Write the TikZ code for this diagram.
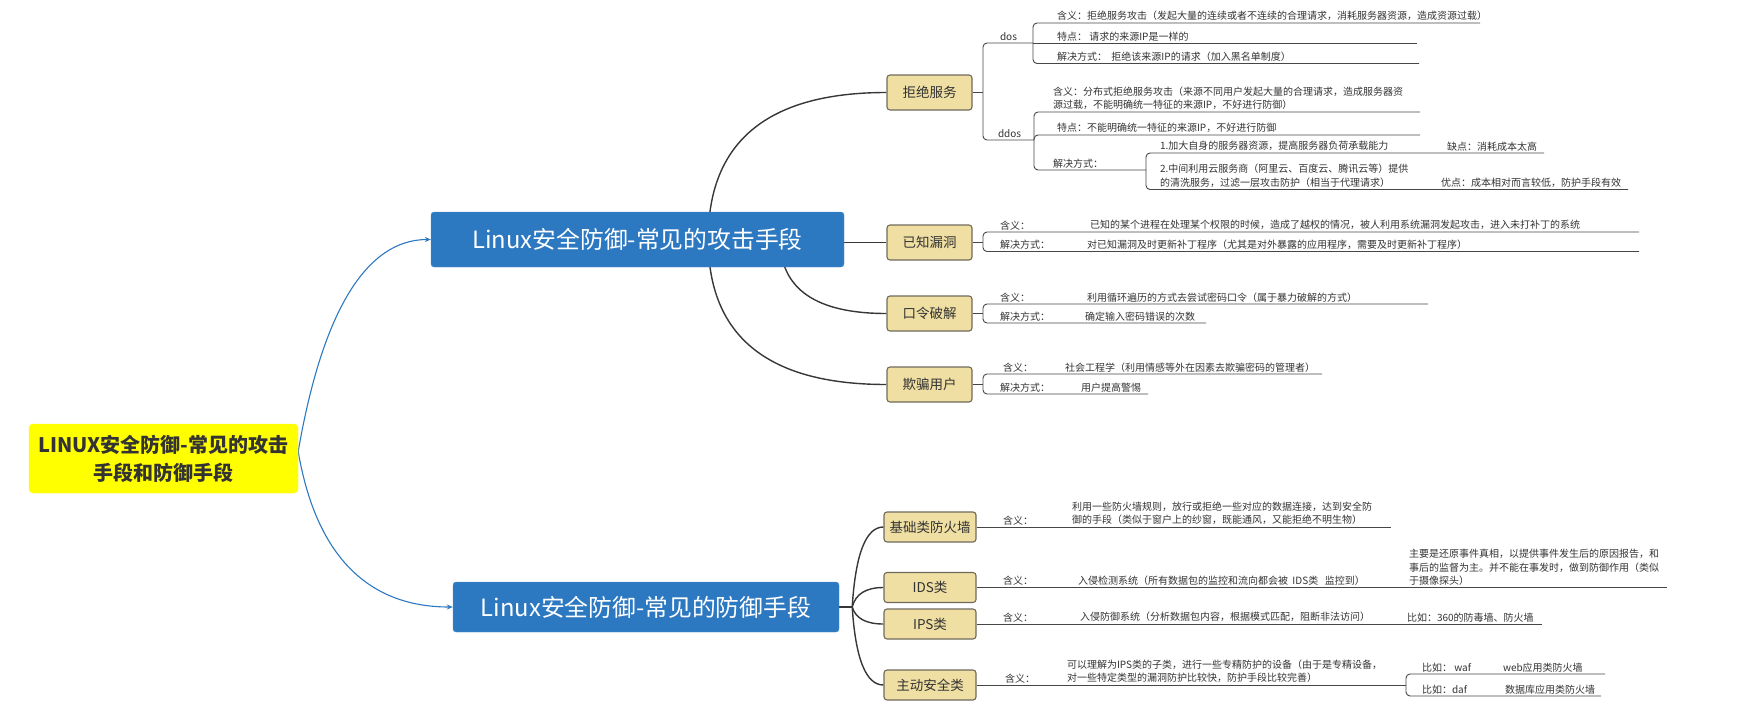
\documentclass[tikz,border=0pt]{standalone}
\usepackage{fontspec}
\setmainfont{Noto Sans CJK SC}
\usetikzlibrary{calc,arrows.meta,backgrounds}
\definecolor{mainblue}{RGB}{44,120,193}
\definecolor{rootyellow}{RGB}{255,255,0}
\definecolor{tanfill}{RGB}{239,223,163}
\definecolor{tanborder}{RGB}{112,106,92}
\definecolor{darktext}{RGB}{51,51,51}
\definecolor{leafcol}{RGB}{70,70,70}
\definecolor{branchcol}{RGB}{55,55,55}
\newcommand\qlink[4]{\draw[#1] (#2) .. controls ($(#2)!0.6667!(#3)$) and ($(#4)!0.6667!(#3)$) .. (#4);}
\tikzset{
  rootbox/.style={fill=rootyellow, draw=rootyellow, rounded corners=4pt, inner sep=0pt, align=center, text=darktext, font=\fontsize{20}{28}\selectfont\bfseries},
  mainbox/.style={fill=mainblue, draw=mainblue!80!white, rounded corners=3pt, inner sep=0pt, text=white, font=\fontsize{23.8}{28}\selectfont},
  subbox/.style={fill=tanfill, draw=tanborder, line width=1.1pt, rounded corners=3pt, inner sep=0pt, text=darktext, font=\fontsize{13.5}{16}\selectfont},
  topsub/.style={subbox, minimum width=85pt, minimum height=35pt},
  botsub/.style={subbox, minimum width=92pt, minimum height=30pt},
  leaf/.style={anchor=south west, inner sep=0pt, outer sep=0pt, align=left, text=darktext, font=\fontsize{10}{13.5}\selectfont},
  leafline/.style={draw=leafcol, line width=0.9pt, rounded corners=4pt},
  branch/.style={draw=branchcol, line width=1.4pt},
  rootlink/.style={draw=mainblue, line width=1.1pt, -{Stealth[length=6pt,width=5pt]}},
}
\begin{document}
\begin{tikzpicture}[x=1pt,y=-1pt]
\useasboundingbox (0,0) rectangle (1748,710);
% main nodes
\node[rootbox, minimum width=269pt, minimum height=69pt] (root) at (163.5,458.5) {LINUX安全防御-常见的攻击\\手段和防御手段};
\node[mainbox, minimum width=413pt, minimum height=55pt] (b1) at (637.5,239.5) {Linux安全防御-常见的攻击手段};
\node[mainbox, minimum width=386pt, minimum height=50pt] (b2) at (646,607) {Linux安全防御-常见的防御手段};
% sub topics
\node[topsub] (jj) at (929.5,92.5) {拒绝服务};
\node[topsub] (yz) at (929.5,242.5) {已知漏洞};
\node[topsub] (kl) at (929.5,313.5) {口令破解};
\node[topsub] (qp) at (929.5,384.5) {欺骗用户};
\node[botsub] (jc) at (930,527) {基础类防火墙};
\node[botsub] (ids) at (930,587.5) {IDS类};
\node[botsub] (ips) at (930,624) {IPS类};
\node[botsub] (zd) at (930,685) {主动安全类};
% connectors behind boxes
\begin{scope}[on background layer]
\coordinate (rs) at ([yshift=7pt]root.east);
\coordinate (rc1) at ([xshift=-96pt]b1.west);
\coordinate (rc2) at ([xshift=-128pt]b2.west);
\qlink{rootlink}{rs}{rc1}{b1.west}
\qlink{rootlink}{rs}{rc2}{b2.west}
\coordinate (b1a) at ([xshift=-136pt]b1.east);
\coordinate (b1b) at ([xshift=-64pt]b1.east);
\coordinate (cj) at (b1a |- jj.west);
\coordinate (cq) at (b1a |- qp.west);
\coordinate (ck) at (b1b |- kl.west);
\qlink{branch}{b1a}{cj}{jj.west}
\qlink{branch}{b1a}{cq}{qp.west}
\qlink{branch}{b1b}{ck}{kl.west}
\draw[branch] (yz.west -| b1.east) -- (yz.west);
\coordinate (b2k) at ([xshift=13pt]b2.east);
\draw[branch] (b2.east) -- (b2k);
\coordinate (cjc) at ([xshift=5pt]b2k |- jc.west);
\coordinate (cids) at ([xshift=5pt]b2k |- ids.west);
\coordinate (cips) at ([xshift=5pt]b2k |- ips.west);
\coordinate (czd) at ([xshift=5pt]b2k |- zd.west);
\qlink{branch}{b2k}{cjc}{jc.west}
\qlink{branch}{b2k}{cids}{ids.west}
\qlink{branch}{b2k}{cips}{ips.west}
\qlink{branch}{b2k}{czd}{zd.west}
\end{scope}
% ---- 拒绝服务
\coordinate (jk) at (983,92.5);
\coordinate (dosk) at (1033,43);
\coordinate (ddosk) at (1034,140);
\node[leaf] (dos) at (1000,41) {dos};
\node[leaf] (ddos) at (998,138) {ddos};
\draw[leafline] (jj.east) -- (jk);
\draw[leafline] (jk) |- (dosk);
\draw[leafline] (jk) |- (ddosk);
\coordinate (d1e) at (1480,23);
\coordinate (d2e) at (1417,43);
\coordinate (d3e) at (1419,63.5);
\node[leaf] (d1) at (1057,21) {含义：拒绝服务攻击（发起大量的连续或者不连续的合理请求，消耗服务器资源，造成资源过载）};
\node[leaf] (d2) at (1057,41) {特点：\ 请求的来源IP是一样的};
\node[leaf] (d3) at (1057,61.5) {解决方式：\ \ 拒绝该来源IP的请求（加入黑名单制度）};
\draw[leafline] (dosk) |- (d1e);
\draw[leafline] (dosk) -- (d2e);
\draw[leafline] (dosk) |- (d3e);
\coordinate (dd1e) at (1420,112);
\coordinate (dd2e) at (1420,135);
\coordinate (dd3e) at (1146,170);
\node[leaf] (dd1) at (1053,110) {含义：分布式拒绝服务攻击（来源不同用户发起大量的合理请求，造成服务器资\\源过载，不能明确统一特征的来源IP，不好进行防御）};
\node[leaf] (dd2) at (1057,133) {特点：不能明确统一特征的来源IP，不好进行防御};
\node[leaf] (dd3) at (1053,168) {解决方式：};
\draw[leafline] (ddosk) |- (dd1e);
\draw[leafline] (ddosk) |- (dd2e);
\draw[leafline] (ddosk) |- (dd3e);
\coordinate (s1e) at (1544,153);
\coordinate (s2e) at (1628,189.5);
\node[leaf] (s1) at (1160,151) {1.加大自身的服务器资源，提高服务器负荷承载能力};
\node[leaf] (s1b) at (1447,151) {缺点：消耗成本太高};
\node[leaf] (s2) at (1160,187.5) {2.中间利用云服务商（阿里云、百度云、腾讯云等）提供\\的清洗服务，过滤一层攻击防护（相当于代理请求）};
\node[leaf] (s2b) at (1441,187.5) {优点：成本相对而言较低，防护手段有效};
\draw[leafline] (dd3e) |- (s1e);
\draw[leafline] (dd3e) |- (s2e);
% ---- 已知漏洞
\coordinate (yzk) at (983,242.5);
\coordinate (y1e) at (1639,232);
\coordinate (y2e) at (1639,251.5);
\node[leaf] (y1a) at (1000,230) {含义：};
\node[leaf] (y1) at (1090,230) {已知的某个进程在处理某个权限的时候，造成了越权的情况，被人利用系统漏洞发起攻击，进入未打补丁的系统};
\node[leaf] (y2a) at (1000,249.5) {解决方式：};
\node[leaf] (y2) at (1087,249.5) {对已知漏洞及时更新补丁程序（尤其是对外暴露的应用程序，需要及时更新补丁程序）};
\draw[leafline] (yz.east) -- (yzk);
\draw[leafline] (yzk) |- (y1e);
\draw[leafline] (yzk) |- (y2e);
% ---- 口令破解
\coordinate (klk) at (983,313.5);
\coordinate (k1e) at (1428,304);
\coordinate (k2e) at (1206,323);
\node[leaf] (k1a) at (1000,302) {含义：};
\node[leaf] (k1) at (1087,302) {利用循环遍历的方式去尝试密码口令（属于暴力破解的方式）};
\node[leaf] (k2a) at (1000,321) {解决方式：};
\node[leaf] (k2) at (1085,321) {确定输入密码错误的次数};
\draw[leafline] (kl.east) -- (klk);
\draw[leafline] (klk) |- (k1e);
\draw[leafline] (klk) |- (k2e);
% ---- 欺骗用户
\coordinate (qpk) at (983,384.5);
\coordinate (q1e) at (1322,374);
\coordinate (q2e) at (1148,394);
\node[leaf] (q1a) at (1003,372) {含义：};
\node[leaf] (q1) at (1065,372) {社会工程学（利用情感等外在因素去欺骗密码的管理者）};
\node[leaf] (q2a) at (1000,392) {解决方式：};
\node[leaf] (q2) at (1081,392) {用户提高警惕};
\draw[leafline] (qp.east) -- (qpk);
\draw[leafline] (qpk) |- (q1e);
\draw[leafline] (qpk) |- (q2e);
% ---- 基础类防火墙
\coordinate (jce) at (1391,527);
\node[leaf] (jca) at (1003,525) {含义：};
\node[leaf] (jcb) at (1072,525) {利用一些防火墙规则，放行或拒绝一些对应的数据连接，达到安全防\\御的手段（类似于窗户上的纱窗，既能通风，又能拒绝不明生物）};
\draw[leafline] (jc.east) -- (jce);
% ---- IDS类
\coordinate (idse) at (1667,587.5);
\node[leaf] (idsa) at (1003,585.5) {含义：};
\node[leaf] (idsb) at (1078,585.5) {入侵检测系统（所有数据包的监控和流向都会被\ \ IDS类\ \ \ 监控到）};
\node[leaf] (idsc) at (1409,585.5) {主要是还原事件真相，以提供事件发生后的原因报告，和\\事后的监督为主。并不能在事发时，做到防御作用（类似\\于摄像探头）};
\draw[leafline] (ids.east) -- (idse);
% ---- IPS类
\coordinate (ipse) at (1542,624);
\node[leaf] (ipsa) at (1003,622) {含义：};
\node[leaf] (ipsb) at (1080,622) {入侵防御系统（分析数据包内容，根据模式匹配，阻断非法访问）};
\node[leaf] (ipsc) at (1407,622) {比如：360的防毒墙、防火墙};
\draw[leafline] (ips.east) -- (ipse);
% ---- 主动安全类
\coordinate (zdk) at (1406,685);
\node[leaf] (zda) at (1005,683) {含义：};
\node[leaf] (zdb) at (1067,683) {可以理解为IPS类的子类，进行一些专精防护的设备（由于是专精设备，\\对一些特定类型的漏洞防护比较快，防护手段比较完善）};
\draw[leafline] (zd.east) -- (zdk);
\coordinate (z1e) at (1605,674);
\coordinate (z2e) at (1601,696);
\node[leaf] (z1a) at (1422,672) {比如：\ waf};
\node[leaf] (z1b) at (1503,672) {web应用类防火墙};
\node[leaf] (z2a) at (1422,694) {比如：daf};
\node[leaf] (z2b) at (1505,694) {数据库应用类防火墙};
\draw[leafline] (zdk) |- (z1e);
\draw[leafline] (zdk) |- (z2e);
\end{tikzpicture}
\end{document}
